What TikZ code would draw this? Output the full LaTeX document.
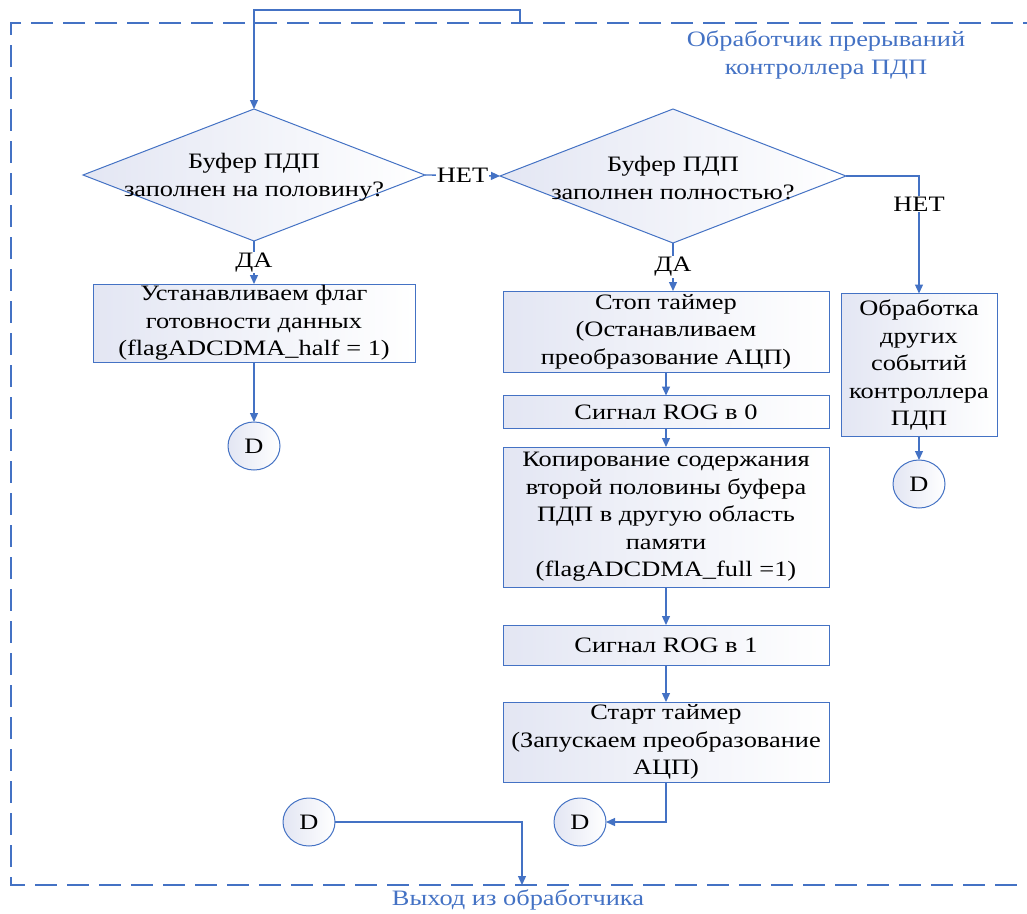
\documentclass[tikz,border=0pt]{standalone}
\usepackage{fontspec}
\setmainfont{Liberation Serif}[FakeStretch=1.2]
\usetikzlibrary{arrows.meta,shapes.geometric}
\definecolor{wblue}{HTML}{4472C4}
\definecolor{shadec}{HTML}{E3E6F3}
\begin{document}
\begin{tikzpicture}[x=1pt,y=-1pt,
  every node/.style={font=\fontsize{22}{27.5}\selectfont},
  box/.style={draw=wblue, line width=1pt, left color=shadec, right color=white, rectangle, inner sep=0pt, outer sep=0pt, align=center},
  dia/.style={draw=wblue, line width=1pt, left color=shadec, right color=white, diamond, inner sep=0pt, outer sep=0pt},
  conn/.style={ellipse, draw=wblue, line width=1pt, left color=shadec, right color=white, minimum width=52pt, minimum height=48pt, inner sep=0pt, outer sep=0pt},
  arr/.style={draw=wblue, line width=1.3pt, -{Triangle[length=9pt,width=8pt]}},
  lbl/.style={fill=white, inner sep=1pt},
  frame/.style={draw=wblue, line width=1.1pt, dash pattern=on 22pt off 10pt},
  dtext/.style={align=center},
  bluetext/.style={text=wblue, align=center},
]
\useasboundingbox (0,0) rectangle (1027,913);
% frame
\draw[frame] (1045,23) -- (11,23) -- (11,885) -- (1045,885);

% decisions
\node[dia, minimum width=342pt, minimum height=132pt] (d1) at (254,175) {};
\node[dtext] (d1t) at (254,177) {Буфер ПДП\\заполнен на половину?};
\node[dia, minimum width=346pt, minimum height=134pt] (d2) at (673,176) {};
\node[dtext] (d2t) at (673,178) {Буфер ПДП\\заполнен полностью?};

% left branch
\node[box, minimum width=322pt, minimum height=78pt] (b0) at (254,323) {Устанавливаем флаг\\готовности данных\\(flagADCDMA\_half = 1)};
\node[conn] (D1) at (254,446) {D};

% right column
\node[box, minimum width=326pt, minimum height=81pt] (b1) at (666,331.5) {Стоп таймер\\(Останавливаем\\преобразование АЦП)};
\node[box, minimum width=326pt, minimum height=33pt] (b2) at (666,412) {Сигнал ROG в 0};
\node[box, minimum width=326pt, minimum height=140pt] (b3) at (666,517) {Копирование содержания\\второй половины буфера\\ПДП в другую область\\памяти\\(flagADCDMA\_full =1)};
\node[box, minimum width=326pt, minimum height=40pt] (b4) at (666,645) {Сигнал ROG в 1};
\node[box, minimum width=326pt, minimum height=80pt] (b5) at (666,742) {Старт таймер\\(Запускаем преобразование\\АЦП)};

% far right
\node[box, minimum width=156pt, minimum height=143pt] (b6) at (919,365) {Обработка\\других\\событий\\контроллера\\ПДП};
\node[conn] (D3) at (919,484) {D};

% bottom connectors
\node[conn] (D4) at (309,822) {D};
\node[conn] (D5) at (580,822) {D};

% labels
\node[bluetext] (title) at (826,55) {Обработчик прерываний\\контроллера ПДП};
\node[bluetext] (exitlbl) at (518,900) {Выход из обработчика};

% coordinates
\coordinate (lstart) at (520,23);
\coordinate (ltop) at (520,10);
\coordinate (exitc) at (522,885);

% connectors
\draw[arr] (lstart) -- (ltop) -| (d1.north);
\draw[arr] (d1.south) -- node[lbl]{ДА} (b0.north);
\draw[arr] (b0.south) -- (D1.north);
\draw[arr] (d1.east) -- node[lbl]{НЕТ} (d2.west);
\draw[arr] (d2.south) -- node[lbl]{ДА} (d2.south |- b1.north);
\draw[arr] (d2.east) -| node[lbl,pos=0.62]{НЕТ} (b6.north);
\draw[arr] (b1.south) -- (b2.north);
\draw[arr] (b2.south) -- (b3.north);
\draw[arr] (b3.south) -- (b4.north);
\draw[arr] (b4.south) -- (b5.north);
\draw[arr] (b6.south) -- (D3.north);
\draw[arr] (b5.south) |- (D5.east);
\draw[arr] (D4.east) -| (exitc);
\end{tikzpicture}
\end{document}
